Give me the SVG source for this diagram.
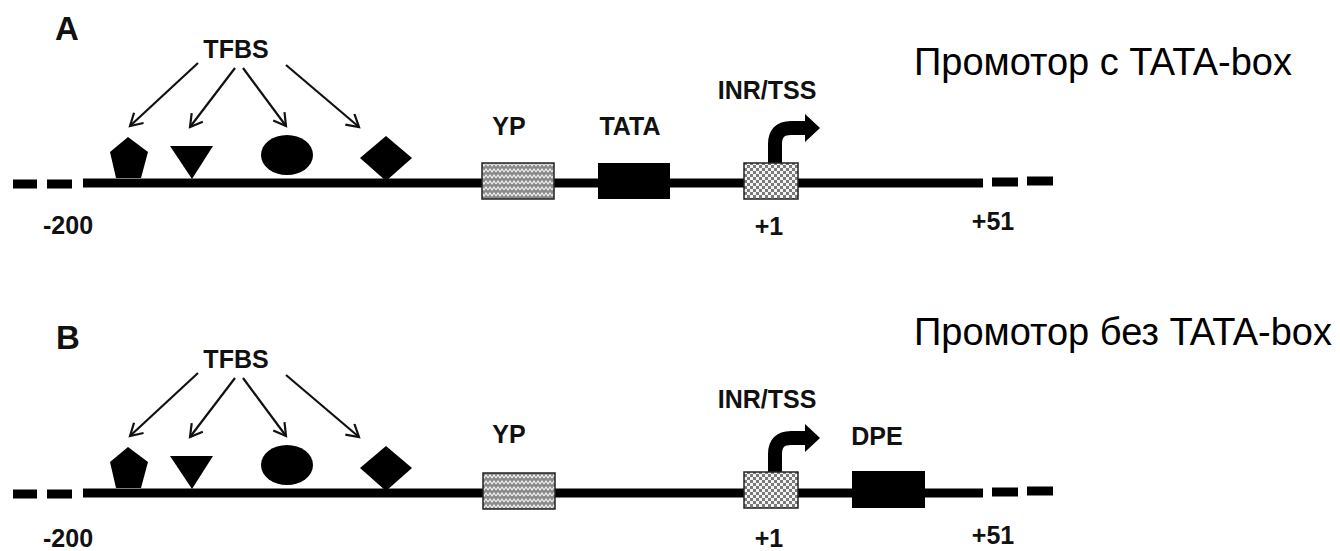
<svg xmlns="http://www.w3.org/2000/svg" width="1340" height="551" viewBox="0 0 1340 551">
<style>
.lbl{font-family:"Liberation Sans",Arial,sans-serif;font-weight:bold;font-size:25px;fill:#111}
.big{font-family:"Liberation Sans",Arial,sans-serif;font-weight:bold;font-size:33px;fill:#111}
.ru{font-family:"Liberation Sans",Arial,sans-serif;font-size:38px;fill:#000}
.dna{stroke:#000;stroke-width:9;fill:none}
.ptr{stroke:#111;stroke-width:2.2;fill:none;marker-end:url(#open)}
.tss{stroke:#000;stroke-width:14;fill:none}
.box{stroke:#222;stroke-width:1.5}
</style>
<defs>
<marker id="open" markerUnits="userSpaceOnUse" markerWidth="18" markerHeight="18" refX="13" refY="8" orient="auto">
<path d="M1,1 L13,8 L1,15" fill="none" stroke="#111" stroke-width="2.2"/>
</marker>
<pattern id="wave" patternUnits="userSpaceOnUse" width="8" height="6">
<rect width="8" height="6" fill="#8a8a8a"/>
<path d="M0,4 L2,1 L4,4 L6,1 L8,4" fill="none" stroke="#f2f2f2" stroke-width="1.2"/>
</pattern>
<pattern id="check" patternUnits="userSpaceOnUse" width="6" height="6">
<rect width="6" height="6" fill="#f4f4f4"/>
<rect width="3" height="3" fill="#7a7a7a"/>
<rect x="3" y="3" width="3" height="3" fill="#7a7a7a"/>
</pattern>
</defs>
<rect width="1340" height="551" fill="#fff"/>

<!-- Panel A -->
<g id="panelA-label"><text class="big" x="55" y="40">A</text></g>
<g id="titleA"><text class="ru" x="914" y="75">Промотор с TATA-box</text></g>
<g id="dnaA">
<line class="dna" x1="13" y1="184" x2="37" y2="184"/>
<line class="dna" x1="47" y1="184" x2="72" y2="184"/>
<line class="dna" x1="83" y1="183" x2="983" y2="183"/>
<line class="dna" x1="992" y1="182" x2="1018" y2="182"/>
<line class="dna" x1="1027" y1="181" x2="1053" y2="181"/>
</g>
<g id="tfbsA">
<text class="lbl" x="236" y="58" text-anchor="middle">TFBS</text>
<polygon points="128,137 148,152 141,178 116,178 110,152"/>
<polygon points="170,146 213,146 192,179"/>
<ellipse cx="287" cy="155" rx="26" ry="20"/>
<polygon points="386,136 412,158 386,181 360,158"/>
</g>
<g id="ypA">
<text class="lbl" x="509" y="135" text-anchor="middle">YP</text>
<rect class="box" x="482" y="163" width="72" height="36" fill="url(#wave)"/>
</g>
<g id="tataA">
<text class="lbl" x="630" y="135" text-anchor="middle">TATA</text>
<rect x="598" y="163" width="72" height="36" fill="#000"/>
</g>
<g id="inrA">
<text class="lbl" x="767" y="99" text-anchor="middle">INR/TSS</text>
<path class="tss" d="M775,163 V144 Q775,128 791,128 H807"/>
<polygon points="805,114 820,128 805,142"/>
<rect class="box" x="744" y="163" width="54" height="36" fill="url(#check)"/>
</g>
<g id="posA">
<text class="lbl" x="43" y="234">-200</text>
<text class="lbl" x="769" y="235" text-anchor="middle">+1</text>
<text class="lbl" x="993" y="230" text-anchor="middle">+51</text>
</g>

<!-- Panel B -->
<g id="panelB-label"><text class="big" x="56" y="349">B</text></g>
<g id="titleB"><text class="ru" x="914" y="345">Промотор без TATA-box</text></g>
<g id="dnaB">
<line class="dna" x1="13" y1="494" x2="37" y2="494"/>
<line class="dna" x1="47" y1="494" x2="72" y2="494"/>
<line class="dna" x1="83" y1="493" x2="983" y2="493"/>
<line class="dna" x1="992" y1="492" x2="1018" y2="492"/>
<line class="dna" x1="1027" y1="491" x2="1053" y2="491"/>
</g>
<g id="tfbsB">
<text class="lbl" x="236" y="368" text-anchor="middle">TFBS</text>
<polygon points="128,447 148,462 141,488 116,488 110,462"/>
<polygon points="170,456 213,456 192,489"/>
<ellipse cx="287" cy="465" rx="26" ry="20"/>
<polygon points="386,446 412,468 386,491 360,468"/>
</g>
<g id="ypB">
<text class="lbl" x="509" y="443" text-anchor="middle">YP</text>
<rect class="box" x="483" y="473" width="72" height="36" fill="url(#wave)"/>
</g>
<g id="inrB">
<text class="lbl" x="767" y="408" text-anchor="middle">INR/TSS</text>
<path class="tss" d="M775,473 V454 Q775,438 791,438 H807"/>
<polygon points="805,424 820,438 805,452"/>
<rect class="box" x="744" y="472" width="54" height="36" fill="url(#check)"/>
</g>
<g id="dpeB">
<text class="lbl" x="877" y="445" text-anchor="middle">DPE</text>
<rect x="852" y="471" width="73" height="37" fill="#000"/>
</g>
<g id="posB">
<text class="lbl" x="43" y="547">-200</text>
<text class="lbl" x="769" y="547" text-anchor="middle">+1</text>
<text class="lbl" x="993" y="544" text-anchor="middle">+51</text>
</g>

<g id="connectors">
<line class="ptr" x1="198" y1="63" x2="130" y2="126"/>
<line class="ptr" x1="235" y1="68" x2="190" y2="127"/>
<line class="ptr" x1="243" y1="68" x2="286" y2="126"/>
<line class="ptr" x1="286" y1="65" x2="359" y2="127"/>
<line class="ptr" x1="198" y1="373" x2="130" y2="436"/>
<line class="ptr" x1="235" y1="378" x2="190" y2="437"/>
<line class="ptr" x1="243" y1="378" x2="286" y2="436"/>
<line class="ptr" x1="286" y1="375" x2="359" y2="437"/>
</g>
</svg>
